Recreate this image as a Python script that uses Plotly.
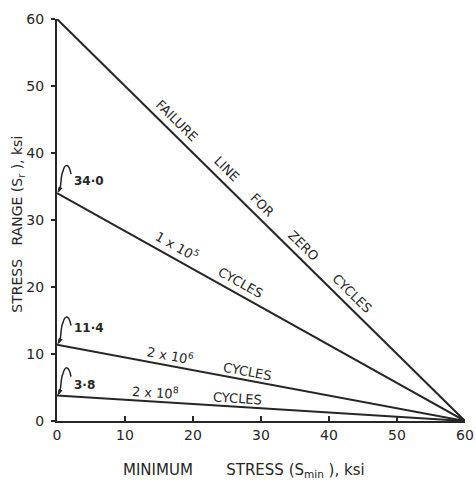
import math
import plotly.graph_objects as go

# ---- data ----
min_stress = [0, 60]
failure_zero = [60.0, 0.0]
cycles_1e5 = [34.0, 0.0]
cycles_2e6 = [11.4, 0.0]
cycles_2e8 = [3.8, 0.0]
x_ticks = [0, 10, 20, 30, 40, 50, 60]
y_ticks = [0, 10, 20, 30, 40, 50, 60]
intercept_labels = ["34·0", "11·4", "3·8"]

W, H = 476, 486
L, R, T, B = 57, 11, 19, 65
pw, ph = W - L - R, H - T - B
xr, yr = [0, 60], [0, 60]
INK = "#262626"
FONT = "DejaVu Sans"

fig = go.Figure()
series = [failure_zero, cycles_1e5, cycles_2e6, cycles_2e8]
for s in series:
    fig.add_trace(go.Scatter(x=min_stress, y=s, mode="lines",
                             line=dict(color=INK, width=2), showlegend=False,
                             hoverinfo="skip"))

def line_geom(s):
    dxp = (min_stress[1] - min_stress[0]) / (xr[1] - xr[0]) * pw
    dyp = (s[0] - s[1]) / (yr[1] - yr[0]) * ph
    ang = math.degrees(math.atan2(dyp, dxp))
    ln = math.hypot(dxp, dyp)
    return ang, dxp / ln, dyp / ln

# labels along lines: (series, text, fraction along, perpendicular offset px)
labels = [
    (failure_zero, "FAILURE", 0.273, 12),
    (failure_zero, "LINE", 0.394, 12),
    (failure_zero, "FOR", 0.484, 12),
    (failure_zero, "ZERO", 0.584, 11),
    (failure_zero, "CYCLES", 0.703, 12),
    (cycles_1e5, "1 x 10<sup>5</sup>", 0.280, 13),
    (cycles_1e5, "CYCLES", 0.436, 11),
    (cycles_2e6, "2 x 10<sup>6</sup>", 0.272, 11),
    (cycles_2e6, "CYCLES", 0.462, 9),
    (cycles_2e8, "2 x 10<sup>8</sup>", 0.239, 10),
    (cycles_2e8, "CYCLES", 0.44, 8),
]
for s, txt, t, off in labels:
    ang, ux, uy = line_geom(s)
    x = min_stress[0] + t * (min_stress[1] - min_stress[0])
    y = s[0] + t * (s[1] - s[0])
    fig.add_annotation(x=x, y=y, text=txt, showarrow=False, textangle=ang,
                       xanchor="center", yanchor="middle",
                       xshift=uy * off, yshift=ux * off,
                       font=dict(family=FONT, size=13, color=INK))

# intercept call-outs with squiggle leaders
text_up = [12, 17, 11]
for s, lab, up in zip(series[1:], intercept_labels, text_up):
    fig.add_shape(type="path", xref="x", yref="y",
                  xsizemode="pixel", ysizemode="pixel",
                  xanchor=min_stress[0], yanchor=s[0],
                  path="M2,2 C5,8 3,16 6,22 C8,30 12,30 14,19",
                  line=dict(color=INK, width=1.5))
    fig.add_shape(type="path", xref="x", yref="y",
                  xsizemode="pixel", ysizemode="pixel",
                  xanchor=min_stress[0], yanchor=s[0],
                  path="M1,1 L5,5 L2,6 Z", fillcolor=INK,
                  line=dict(color=INK, width=1))
    fig.add_annotation(x=min_stress[0], y=s[0], text="<b>" + lab + "</b>",
                       showarrow=False, xanchor="left", yanchor="middle",
                       xshift=15, yshift=up,
                       font=dict(family=FONT, size=12, color=INK))

# axis titles
fig.add_annotation(xref="paper", yref="y", x=0, y=29.3, xshift=-39,
                   xanchor="center", yanchor="middle",
                   text="STRESS&nbsp;&nbsp;&nbsp;RANGE (S<sub>r</sub> ), ksi",
                   textangle=-90, showarrow=False,
                   font=dict(family=FONT, size=14, color=INK))
fig.add_annotation(xref="x", yref="paper", x=27.5, y=0, yshift=-49,
                   xanchor="center", yanchor="middle",
                   text="MINIMUM&nbsp;&nbsp;&nbsp;&nbsp;&nbsp;&nbsp;&nbsp;STRESS (S<sub>min</sub> ), ksi",
                   showarrow=False,
                   font=dict(family=FONT, size=15, color=INK))

fig.update_layout(
    width=W, height=H, autosize=False, margin=dict(l=L, r=R, t=T, b=B),
    paper_bgcolor="white", plot_bgcolor="white",
    xaxis=dict(range=xr, tickvals=x_ticks, ticktext=[str(v) for v in x_ticks],
               automargin=False,
               showgrid=False, zeroline=False, showline=True, linecolor=INK,
               linewidth=2, ticks="inside", ticklen=5, tickcolor=INK,
               tickwidth=1.5, tickfont=dict(family=FONT, size=14, color=INK)),
    yaxis=dict(range=yr, tickvals=y_ticks, ticktext=[str(v) for v in y_ticks],
               automargin=False,
               showgrid=False, zeroline=False, showline=True, linecolor=INK,
               linewidth=2, ticks="outside", ticklen=4, tickcolor=INK,
               tickwidth=1.5, ticklabelstandoff=4,
               tickfont=dict(family=FONT, size=14, color=INK)),
)
fig.write_html("out.html",
               config={"responsive": False, "displayModeBar": False},
               post_script="document.body.style.margin='0';"
                           "document.body.style.overflow='hidden';")
